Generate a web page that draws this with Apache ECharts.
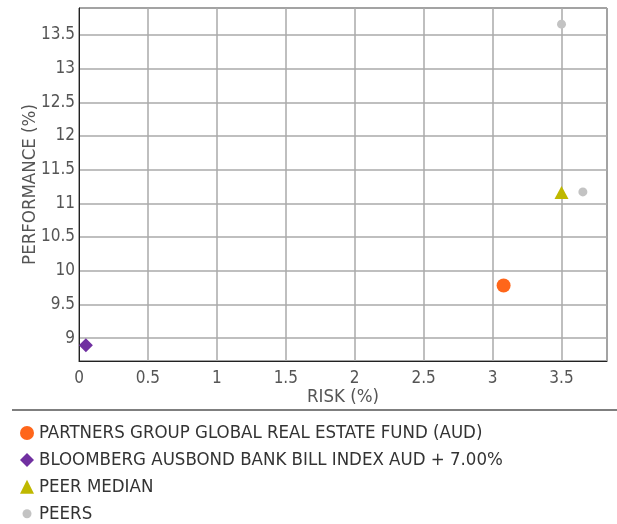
<!DOCTYPE html>
<html>
<head>
<meta charset="utf-8">
<script src="https://cdn.jsdelivr.net/npm/echarts@6/dist/echarts.min.js"></script>
<style>
html,body{margin:0;padding:0;background:#fff;}
#c{width:617px;height:524px;}
</style>
</head>
<body>
<div id="c"></div>
<script>
const seriesNames = [
  'PARTNERS GROUP GLOBAL REAL ESTATE FUND (AUD)',
  'BLOOMBERG AUSBOND BANK BILL INDEX AUD + 7.00%',
  'PEER MEDIAN',
  'PEERS'
];
const fundPoints = [[3.08, 9.78]];
const benchmarkPoints = [[0.05, 8.895]];
const peerMedianPoints = [[3.50, 11.16]];
const peerPoints = [[3.50, 13.66], [3.655, 11.17]];
const xTitle = 'RISK (%)';
const yTitle = 'PERFORMANCE (%)';

const FONT = "'DejaVu Sans Condensed', 'Liberation Sans', sans-serif";
const chart = echarts.init(document.getElementById('c'), null, {renderer: 'canvas'});
chart.setOption({
  animation: false,
  backgroundColor: '#fff',
  textStyle: {fontFamily: FONT},
  grid: {left: 79, top: 8, right: 10, bottom: 163, show: true, borderColor: '#222', borderWidth: 1, containLabel: false},
  xAxis: {
    type: 'value', min: 0, max: 3.83, interval: 0.5,
    name: xTitle, nameLocation: 'middle', nameGap: 27, nameMoveOverlap: false,
    nameTextStyle: {color: '#555', fontSize: 18.5, fontFamily: FONT},
    axisLine: {show: true, lineStyle: {color: '#222', width: 1}},
    axisTick: {show: false},
    axisLabel: {color: '#555', fontSize: 17, fontFamily: FONT, margin: 9, showMaxLabel: false},
    splitLine: {show: true, lineStyle: {color: '#aaa', width: 1.5}}
  },
  yAxis: {
    type: 'value', min: 8.66, max: 13.9, splitNumber: 10,
    name: yTitle, nameLocation: 'middle', nameGap: 39, nameMoveOverlap: false,
    nameTextStyle: {color: '#555', fontSize: 18.5, fontFamily: FONT},
    axisLine: {show: true, lineStyle: {color: '#222', width: 1}},
    axisTick: {show: false},
    axisLabel: {color: '#555', fontSize: 17, fontFamily: FONT, margin: 4, showMinLabel: false, showMaxLabel: false},
    splitLine: {show: true, lineStyle: {color: '#aaa', width: 1.5}}
  },
  legend: {
    orient: 'vertical', left: 20, top: 423.5, height: 120, padding: 0,
    itemWidth: 14, itemHeight: 14, itemGap: 7.9,
    textStyle: {color: '#333', fontSize: 18.5, fontFamily: FONT},
    data: [
      {name: seriesNames[0]},
      {name: seriesNames[1]},
      {name: seriesNames[2]},
      {name: seriesNames[3], icon: 'path://M0,0 M14,14 M2.5,7 A4.5,4.5 0 1 1 11.5,7 A4.5,4.5 0 1 1 2.5,7 Z'}
    ]
  },
  graphic: [{
    type: 'line', shape: {x1: 12, y1: 410, x2: 617, y2: 410},
    style: {stroke: '#555', lineWidth: 1.5}, silent: true
  }],
  series: [
    {name: seriesNames[0], type: 'scatter', symbol: 'circle', symbolSize: 14, data: fundPoints, itemStyle: {color: '#FF661A', opacity: 1}, z: 5},
    {name: seriesNames[1], type: 'scatter', symbol: 'diamond', symbolSize: 14, data: benchmarkPoints, itemStyle: {color: '#7030A0', opacity: 1}, z: 5},
    {name: seriesNames[2], type: 'scatter', symbol: 'triangle', symbolSize: [14, 13], data: peerMedianPoints, itemStyle: {color: '#BFB800', opacity: 1}, z: 5},
    {name: seriesNames[3], type: 'scatter', symbol: 'circle', symbolSize: 9, data: peerPoints, itemStyle: {color: '#C3C3C3', opacity: 1}, z: 4}
  ]
});
</script>
</body>
</html>
